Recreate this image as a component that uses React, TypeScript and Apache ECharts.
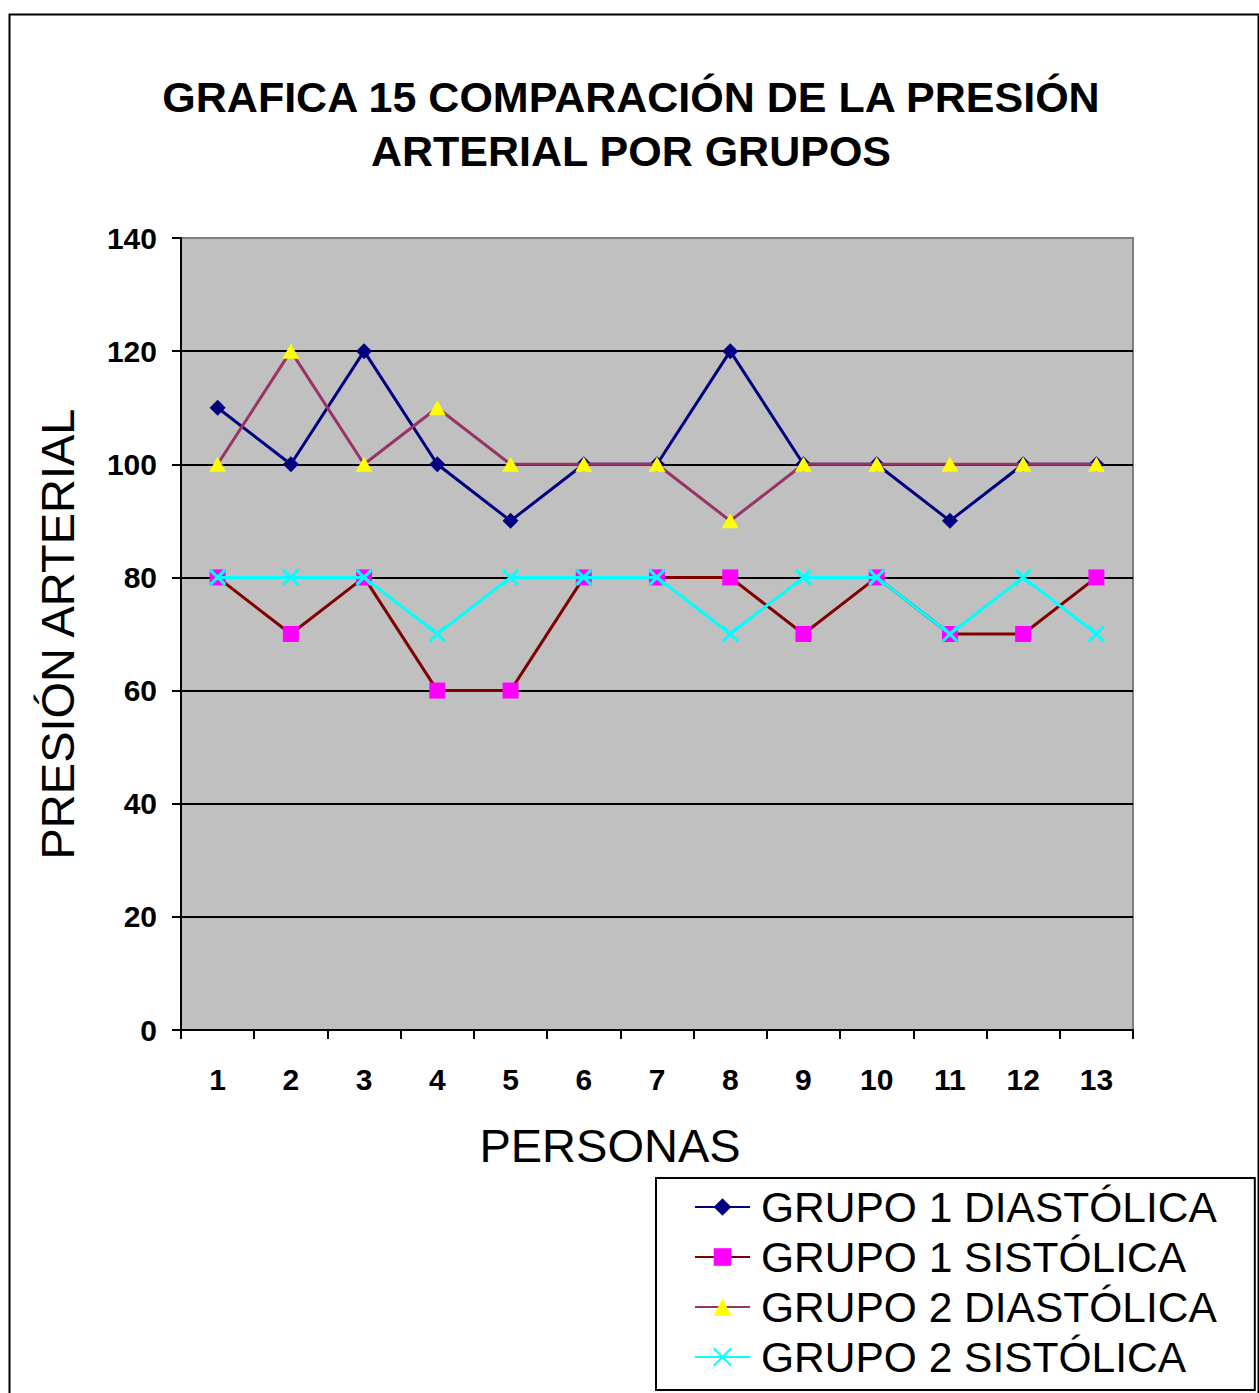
import React, { useEffect, useRef } from "react";
import * as echarts from "echarts";

const categories = ["1", "2", "3", "4", "5", "6", "7", "8", "9", "10", "11", "12", "13"];
const grupo1Diastolica = [110, 100, 120, 100, 90, 100, 100, 120, 100, 100, 90, 100, 100];
const grupo1Sistolica = [80, 70, 80, 60, 60, 80, 80, 80, 70, 80, 70, 70, 80];
const grupo2Diastolica = [100, 120, 100, 110, 100, 100, 100, 90, 100, 100, 100, 100, 100];
const grupo2Sistolica = [80, 80, 80, 70, 80, 80, 80, 70, 80, 80, 70, 80, 70];
const seriesNames = ["GRUPO 1 DIASTÓLICA", "GRUPO 1 SISTÓLICA", "GRUPO 2 DIASTÓLICA", "GRUPO 2 SISTÓLICA"];
const titleText = "GRAFICA 15 COMPARACIÓN DE LA PRESIÓN\nARTERIAL POR GRUPOS";

const FONT = "'Liberation Sans', Arial, sans-serif";

export default function App() {
  const ref = useRef<HTMLDivElement>(null);
  useEffect(() => {
    if (!ref.current) return;
    const chart = echarts.init(ref.current, null, { renderer: "svg" });
    const xSymbol = "path://M0,0L10,10M10,0L0,10";
    chart.setOption({
      animation: false,
      backgroundColor: "#ffffff",
      textStyle: { fontFamily: FONT },
      graphic: [
        {
          type: "rect",
          left: 7,
          top: 12,
          shape: { width: 1249, height: 1400 },
          style: { fill: "none", stroke: "#000", lineWidth: 2 },
          z: 100,
        },
        {
          type: "text",
          x: 631,
          y: 124,
          style: {
            text: titleText,
            fill: "#000",
            fontFamily: FONT,
            fontSize: 43,
            fontWeight: "bold",
            lineHeight: 54,
            align: "center",
            verticalAlign: "middle",
          },
          z: 100,
        },
      ],
      legend: {
        orient: "vertical",
        left: 656,
        top: 1178,
        itemGap: 0,
        itemWidth: 55,
        itemHeight: 22,
        padding: [4, 38, 8, 38],
        borderColor: "#000",
        borderWidth: 2,
        backgroundColor: "#fff",
        textStyle: { fontFamily: FONT, fontSize: 42.5, lineHeight: 50, color: "#000", padding: [0, 0, 0, 6] },
        data: seriesNames,
      },
      grid: {
        left: 181,
        top: 238,
        right: 126,
        bottom: 363,
        show: true,
        backgroundColor: "#C0C0C0",
        borderColor: "#808080",
        borderWidth: 2,
      },
      xAxis: {
        type: "category",
        data: categories,
        boundaryGap: true,
        name: "PERSONAS",
        nameLocation: "middle",
        nameGap: 92,
        nameTextStyle: { fontFamily: FONT, fontSize: 47, color: "#000", padding: [0, 94, 0, 0] },
        axisLine: { lineStyle: { color: "#000", width: 2 } },
        axisTick: { show: true, length: 9, lineStyle: { color: "#000", width: 2 } },
        axisLabel: { fontFamily: FONT, fontSize: 30, fontWeight: "bold", color: "#000", margin: 34 },
        splitLine: { show: false },
      },
      yAxis: {
        type: "value",
        min: 0,
        max: 140,
        interval: 20,
        name: "PRESIÓN ARTERIAL",
        nameLocation: "middle",
        nameGap: 100,
        nameTextStyle: { fontFamily: FONT, fontSize: 47, color: "#000" },
        axisLine: { show: true, lineStyle: { color: "#000", width: 2 } },
        axisTick: { show: true, length: 9, lineStyle: { color: "#000", width: 2 } },
        axisLabel: { fontFamily: FONT, fontSize: 30, fontWeight: "bold", color: "#000", margin: 24 },
        splitLine: { show: true, showMaxLine: false, lineStyle: { color: "#000", width: 2 } },
      },
      series: [
        {
          name: seriesNames[0],
          type: "line",
          data: grupo1Diastolica,
          symbol: "diamond",
          symbolSize: 16,
          lineStyle: { color: "#000080", width: 3 },
          itemStyle: { color: "#000080" },
          z: 2,
        },
        {
          name: seriesNames[1],
          type: "line",
          data: grupo1Sistolica,
          symbol: "rect",
          symbolSize: 16,
          lineStyle: { color: "#800000", width: 3 },
          itemStyle: { color: "#FF00FF" },
          z: 3,
        },
        {
          name: seriesNames[2],
          type: "line",
          data: grupo2Diastolica,
          symbol: "triangle",
          symbolSize: [17, 15],
          lineStyle: { color: "#993366", width: 3 },
          itemStyle: { color: "#FFFF00" },
          z: 4,
        },
        {
          name: seriesNames[3],
          type: "line",
          data: grupo2Sistolica,
          symbol: xSymbol,
          symbolSize: 15,
          lineStyle: { color: "#00FFFF", width: 3 },
          itemStyle: { color: "#00FFFF", borderColor: "#00FFFF", borderWidth: 3 },
          z: 5,
        },
      ],
    });
    return () => chart.dispose();
  }, []);
  return (
    <div
      ref={ref}
      style={{ position: "absolute", left: 0, top: 0, width: 1259, height: 1393 }}
    />
  );
}
